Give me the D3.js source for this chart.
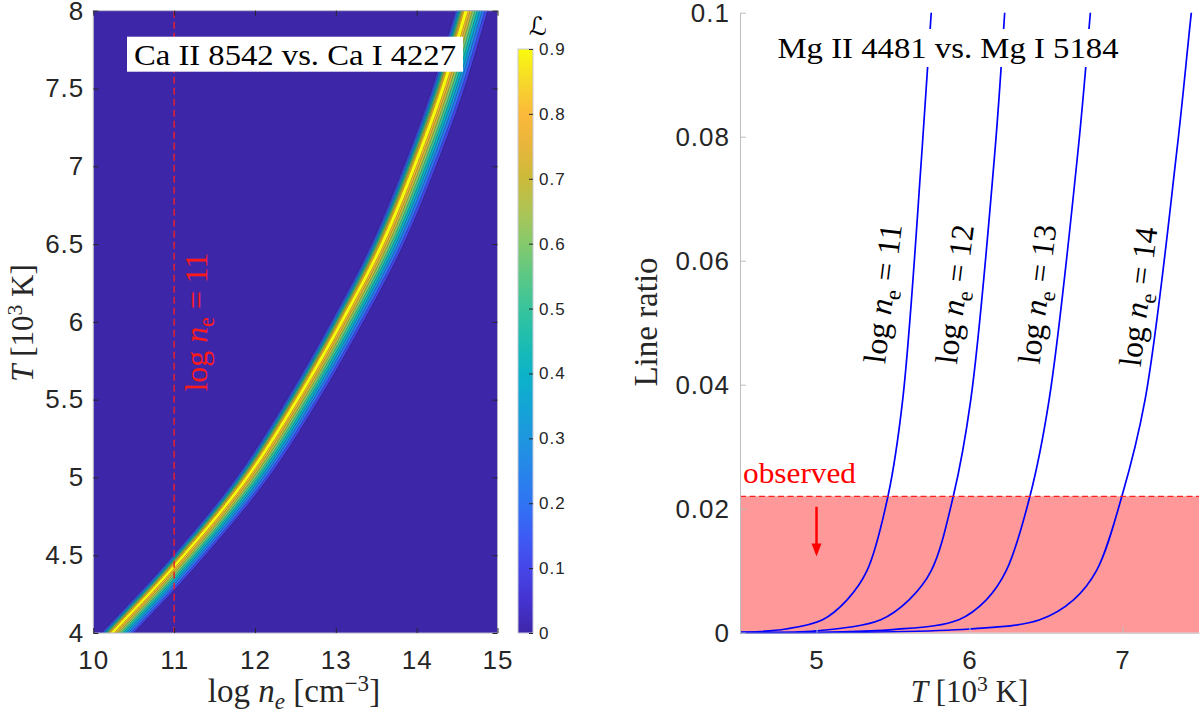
<!DOCTYPE html>
<html>
<head>
<meta charset="utf-8">
<script src="https://cdn.jsdelivr.net/npm/d3@7"></script>
<style>
  body { margin: 0; background: #fff; }
  svg { display: block; }
  .tick text { font-family: "Liberation Sans", Arial, sans-serif; fill: #262626; letter-spacing: 1px; }
  .serif { font-family: "Liberation Serif", "Times New Roman", serif; }
</style>
</head>
<body>
<div id="chart"></div>
<script>
// ---- left panel: where the likelihood peaks ----
var ridgeT  = [4.0, 4.43, 5.0, 5.5, 6.0, 6.5, 7.0, 7.5, 8.0];
var ridgeNe = [10.23, 11.0, 11.9, 12.52, 13.07, 13.57, 13.97, 14.32, 14.61];
// likelihood across the ridge, offset in log ne
var profileDx = [-0.16, -0.13, -0.105, -0.08, -0.056, -0.038, -0.024, 0, 0.028, 0.05, 0.08, 0.11, 0.14, 0.17, 0.2, 0.235, 0.27, 0.31];
var profileL  = [0, 0.1, 0.25, 0.45, 0.65, 0.8, 0.9, 0.95, 0.9, 0.8, 0.7, 0.6, 0.5, 0.4, 0.3, 0.2, 0.1, 0];
var levels = [0.1, 0.2, 0.3, 0.4, 0.5, 0.6, 0.7, 0.8, 0.9];
var cbarTicks = [0, 0.1, 0.2, 0.3, 0.4, 0.5, 0.6, 0.7, 0.8, 0.9];
var leftXTicks = [10, 11, 12, 13, 14, 15];
var leftYTicks = [4, 4.5, 5, 5.5, 6, 6.5, 7, 7.5, 8];
var markNe = 11;

// parula-like colour stops (value on the colour bar)
var parulaAt  = [0, 0.05, 0.1, 0.15, 0.2, 0.25, 0.3, 0.35, 0.4, 0.45, 0.5, 0.55, 0.6, 0.65, 0.7, 0.75, 0.8, 0.85, 0.9];
var parulaHex = ["#3e26a8", "#4433d0", "#4646e8", "#3d5cf5", "#2f74f3", "#2785ea", "#1e96df", "#13a5d6", "#0cb3c8",
                 "#1dbdb0", "#38c49c", "#5bc885", "#85c96c", "#aec455", "#cbbb3a", "#e8b53c", "#fbb93a", "#f6d82a", "#f9fb0e"];

// ---- right panel: line ratio curves for each log ne ----
var curveNe = [11, 12, 13, 14];
var curveT = [
  [4.5, 4.8, 5.04, 5.2, 5.33, 5.467, 5.563, 5.69, 5.75, 5.8],
  [4.5, 5.0, 5.42, 5.605, 5.75, 5.894, 6.008, 6.167, 6.23, 6.28],
  [4.5, 5.5, 5.93, 6.11, 6.24, 6.395, 6.52, 6.71, 6.79, 6.85],
  [4.5, 6.0, 6.46, 6.68, 6.83, 6.996, 7.147, 7.356, 7.45, 7.52]
];
var curveRatio = [
  [0.00005, 0.0006, 0.0021, 0.0053, 0.010, 0.022, 0.0375, 0.0779, 0.100, 0.118],
  [0.00002, 0.0003, 0.0021, 0.0053, 0.010, 0.022, 0.0375, 0.0779, 0.100, 0.120],
  [0.00001, 0.0005, 0.0021, 0.0053, 0.010, 0.022, 0.0375, 0.0779, 0.100, 0.118],
  [0.00001, 0.0006, 0.0021, 0.0053, 0.010, 0.022, 0.0375, 0.0779, 0.100, 0.115]
];
var labelT = [5.43, 5.90, 6.44, 7.10];
var labelRatio = [0.0547, 0.0546, 0.0546, 0.0542];
var observedRatio = 0.022;
var arrowT = 5.0, arrowFrom = 0.0203, arrowTo = 0.0123;
var rightXTicks = [5, 6, 7];
var rightYTicks = [0, 0.02, 0.04, 0.06, 0.08, 0.1];

var svg = d3.select("#chart").append("svg")
    .attr("width", 1200)
    .attr("height", 714);

// little helper for latex-ish labels
function richText(sel, parts, fs) {
  var shift = 0;
  parts.forEach(function(p) {
    var ts = sel.append("tspan").text(p.t);
    var want = 0;
    if (p.sub) want = 0.22 * fs;
    if (p.sup) want = -0.34 * fs;
    if (want - shift !== 0) ts.attr("dy", want - shift);
    shift = want;
    if (p.sub || p.sup) ts.attr("font-size", fs * 0.7);
    if (p.i) ts.attr("font-style", "italic");
  });
  return sel;
}

// smooth monotone interpolation through the read ridge points
function monotone(xs, ys) {
  var n = xs.length, d = [], m = [];
  for (var k = 0; k < n - 1; k++) d.push((ys[k + 1] - ys[k]) / (xs[k + 1] - xs[k]));
  m[0] = d[0]; m[n - 1] = d[n - 2];
  for (k = 1; k < n - 1; k++) m[k] = d[k - 1] * d[k] <= 0 ? 0 : 2 / (1 / d[k - 1] + 1 / d[k]);
  return function(x) {
    var k = Math.max(0, Math.min(n - 2, d3.bisectRight(xs, x) - 1));
    var h = xs[k + 1] - xs[k], t = (x - xs[k]) / h, t2 = t * t, t3 = t2 * t;
    return (2 * t3 - 3 * t2 + 1) * ys[k] + (t3 - 2 * t2 + t) * h * m[k] +
           (-2 * t3 + 3 * t2) * ys[k + 1] + (t3 - t2) * h * m[k + 1];
  };
}

var parula = d3.scaleLinear().domain(parulaAt).range(parulaHex).clamp(true);

/* ================= left panel ================= */
var xL = d3.scaleLinear().domain([10, 15]).range([93.3, 497.5]);
var yL = d3.scaleLinear().domain([4, 8]).range([633, 10.7]);

svg.append("clipPath").attr("id", "clipL")
  .append("rect")
    .attr("x", xL(10)).attr("y", yL(8))
    .attr("width", xL(15) - xL(10)).attr("height", yL(4) - yL(8));

var left = svg.append("g");
var heat = left.append("g").attr("clip-path", "url(#clipL)");

heat.append("rect")
    .attr("x", xL(10)).attr("y", yL(8))
    .attr("width", xL(15) - xL(10)).attr("height", yL(4) - yL(8))
    .attr("fill", parula(0));

var nx = 501, ny = 401, dNe = 0.01, dT = 0.01;
var ridge = monotone(ridgeT, ridgeNe);
var prof = d3.scaleLinear().domain(profileDx).range(profileL).clamp(true);
var grid = new Float64Array(nx * ny);
for (var j = 0; j < ny; j++) {
  var T = 4 + j * dT, c = ridge(T);
  for (var i = 0; i < nx; i++) {
    grid[j * nx + i] = prof(10 + i * dNe - c);
  }
}
var contours = d3.contours().size([nx, ny]).thresholds(levels)(grid);
var toPx = d3.geoTransform({
  point: function(px, py) {
    this.stream.point(xL(10 + (px - 0.5) * dNe), yL(4 + (py - 0.5) * dT));
  }
});
heat.selectAll("path.band")
  .data(contours)
  .join("path")
    .attr("class", "band")
    .attr("d", d3.geoPath(toPx))
    .attr("fill", function(d) { return parula(d.value); })
    .attr("stroke", "#000")
    .attr("stroke-opacity", 0.4)
    .attr("stroke-width", 0.6);

// dashed log ne = 11 marker
heat.append("line")
    .attr("x1", xL(markNe)).attr("x2", xL(markNe))
    .attr("y1", yL(8)).attr("y2", yL(4))
    .attr("stroke", "#e5202e")
    .attr("stroke-width", 1.5)
    .attr("stroke-dasharray", "7,4");

richText(left.append("text")
    .attr("class", "serif")
    .attr("transform", "translate(" + (xL(markNe) + 22) + ",322) rotate(-90)")
    .attr("text-anchor", "middle")
    .attr("dy", "0.35em")
    .attr("font-size", 32)
    .attr("fill", "#ff1a1a"),
  [{t: "log "}, {t: "n", i: 1}, {t: "e", sub: 1}, {t: " = " + markNe}], 32)
  .attr("textLength", 139).attr("lengthAdjust", "spacingAndGlyphs");

// title box
left.append("rect")
    .attr("x", 127).attr("y", 36.7)
    .attr("width", 336).attr("height", 35)
    .attr("fill", "#fff");
left.append("text")
    .attr("class", "serif")
    .attr("x", 295).attr("y", 65)
    .attr("text-anchor", "middle")
    .attr("font-size", 30)
    .attr("fill", "#000")
    .attr("textLength", 322).attr("lengthAdjust", "spacingAndGlyphs")
    .text("Ca II 8542 vs.  Ca I 4227");

// frame + ticks
left.append("rect")
    .attr("x", xL(10)).attr("y", yL(8))
    .attr("width", xL(15) - xL(10)).attr("height", yL(4) - yL(8))
    .attr("fill", "none")
    .attr("stroke", "#b4b4c8")
    .attr("stroke-width", 1);

function styleAxis(g, fs) {
  g.select(".domain").remove();
  g.selectAll(".tick line").attr("stroke", "#262626");
  g.selectAll(".tick text").attr("font-size", fs);
}
var fmt = d3.format("~g");

left.append("g")
    .attr("transform", "translate(0," + yL(4) + ")")
    .call(d3.axisBottom(xL).tickValues(leftXTicks).tickSize(-5).tickPadding(18).tickFormat(fmt))
    .call(styleAxis, 26);
left.append("g")
    .attr("transform", "translate(0," + yL(8) + ")")
    .call(d3.axisTop(xL).tickValues(leftXTicks).tickSize(-5).tickFormat(""))
    .call(styleAxis, 26);
left.append("g")
    .attr("transform", "translate(" + xL(10) + ",0)")
    .call(d3.axisLeft(yL).tickValues(leftYTicks).tickSize(-5).tickPadding(9).tickFormat(fmt))
    .call(styleAxis, 26);
left.append("g")
    .attr("transform", "translate(" + xL(15) + ",0)")
    .call(d3.axisRight(yL).tickValues(leftYTicks).tickSize(-5).tickFormat(""))
    .call(styleAxis, 26);

richText(left.append("text")
    .attr("class", "serif")
    .attr("x", 294).attr("y", 702)
    .attr("text-anchor", "middle")
    .attr("font-size", 33)
    .attr("fill", "#262626"),
  [{t: "log "}, {t: "n", i: 1}, {t: "e", sub: 1, i: 1}, {t: "  [cm"}, {t: "\u22123", sup: 1}, {t: "]"}], 33);

richText(left.append("text")
    .attr("class", "serif")
    .attr("transform", "translate(33,323) rotate(-90)")
    .attr("text-anchor", "middle")
    .attr("font-size", 31)
    .attr("fill", "#262626"),
  [{t: "T", i: 1}, {t: "  [10"}, {t: "3", sup: 1}, {t: " K]"}], 31);

// colour bar
var yC = d3.scaleLinear().domain([0, 0.9]).range([633, 49]);
var grad = svg.append("defs").append("linearGradient")
    .attr("id", "parulaGrad")
    .attr("x1", 0).attr("y1", 1).attr("x2", 0).attr("y2", 0);
grad.selectAll("stop")
  .data(parulaAt)
  .join("stop")
    .attr("offset", function(d) { return d / 0.9; })
    .attr("stop-color", function(d) { return parula(d); });

var cbar = svg.append("g");
cbar.append("rect")
    .attr("x", 518).attr("y", yC(0.9))
    .attr("width", 15).attr("height", yC(0) - yC(0.9))
    .attr("fill", "url(#parulaGrad)")
    .attr("stroke", "#c8c8d8")
    .attr("stroke-width", 1);
cbar.append("g")
    .attr("transform", "translate(533,0)")
    .call(d3.axisRight(yC).tickValues(cbarTicks).tickSize(-4).tickPadding(6).tickFormat(fmt))
    .call(styleAxis, 17);
cbar.append("text")
    .attr("x", 538).attr("y", 35)
    .attr("text-anchor", "middle")
    .attr("font-family", "DejaVu Serif, DejaVu Sans, serif")
    .attr("font-size", 25)
    .attr("fill", "#000")
    .text("\u2112");

/* ================= right panel ================= */
var xR = d3.scaleLinear().domain([4.5, 7.5]).range([740, 1199]);
var yR = d3.scaleLinear().domain([0, 0.1]).range([632.7, 12.7]);

svg.append("clipPath").attr("id", "clipR")
  .append("rect")
    .attr("x", xR(4.5)).attr("y", yR(0.1))
    .attr("width", xR(7.5) - xR(4.5)).attr("height", yR(0) - yR(0.1) + 2);

var right = svg.append("g");

right.append("rect")
    .attr("x", xR(4.5)).attr("y", yR(observedRatio))
    .attr("width", xR(7.5) - xR(4.5)).attr("height", yR(0) - yR(observedRatio))
    .attr("fill", "#ff9999");

var line = d3.line()
    .x(function(d) { return xR(d[0]); })
    .y(function(d) { return yR(d[1]); })
    .curve(d3.curveCatmullRom.alpha(0.5));

right.append("g").attr("clip-path", "url(#clipR)")
  .selectAll("path.curve")
  .data(curveNe)
  .join("path")
    .attr("class", "curve")
    .attr("d", function(d, k) { return line(d3.zip(curveT[k], curveRatio[k])); })
    .attr("fill", "none")
    .attr("stroke", "#0000ff")
    .attr("stroke-width", 1.7);

// title with white background (cuts the curves)
right.append("rect")
    .attr("x", 770).attr("y", 29)
    .attr("width", 356).attr("height", 38)
    .attr("fill", "#fff");
right.append("text")
    .attr("class", "serif")
    .attr("x", 948).attr("y", 58.3)
    .attr("text-anchor", "middle")
    .attr("font-size", 30)
    .attr("fill", "#000")
    .attr("textLength", 341).attr("lengthAdjust", "spacingAndGlyphs")
    .text("Mg II 4481 vs.  Mg I 5184");

// curve labels
curveNe.forEach(function(ne, k) {
  richText(right.append("text")
      .attr("class", "serif")
      .attr("transform", "translate(" + xR(labelT[k]) + "," + yR(labelRatio[k]) + ") rotate(-83)")
      .attr("text-anchor", "middle")
      .attr("dy", "0.35em")
      .attr("font-size", 32)
      .attr("fill", "#000"),
    [{t: "log "}, {t: "n", i: 1}, {t: "e", sub: 1}, {t: " = " + ne}], 32)
    .attr("textLength", 140).attr("lengthAdjust", "spacingAndGlyphs");
});

// observed level
right.append("line")
    .attr("x1", xR(4.5)).attr("x2", xR(7.5))
    .attr("y1", yR(observedRatio)).attr("y2", yR(observedRatio))
    .attr("stroke", "#ff2020")
    .attr("stroke-width", 1.3)
    .attr("stroke-dasharray", "6,3.5");
right.append("text")
    .attr("class", "serif")
    .attr("x", 743).attr("y", 483.3)
    .attr("font-size", 30)
    .attr("fill", "#ff0000")
    .attr("textLength", 113).attr("lengthAdjust", "spacingAndGlyphs")
    .text("observed");

var ax = xR(arrowT), ay0 = yR(arrowFrom), ay1 = yR(arrowTo);
right.append("line")
    .attr("x1", ax).attr("x2", ax)
    .attr("y1", ay0).attr("y2", ay1 - 10)
    .attr("stroke", "#ff0000")
    .attr("stroke-width", 2.5);
right.append("path")
    .attr("d", "M" + (ax - 5) + "," + (ay1 - 13) + "L" + (ax + 5) + "," + (ay1 - 13) + "L" + ax + "," + ay1 + "Z")
    .attr("fill", "#ff0000");

// axes
function styleGrey(g, fs) {
  g.select(".domain").attr("stroke", "#bdbdbd");
  g.selectAll(".tick line").attr("stroke", "#bdbdbd");
  g.selectAll(".tick text").attr("font-size", fs);
}
right.append("g")
    .attr("transform", "translate(" + xR(4.5) + ",0)")
    .call(d3.axisLeft(yR).tickValues(rightYTicks).tickSize(-6).tickSizeOuter(0).tickPadding(10)
      .tickFormat(function(d) { return String(+d.toFixed(2)); }))
    .call(styleGrey, 26);
right.append("g")
    .attr("transform", "translate(0," + yR(0) + ")")
    .call(d3.axisBottom(xR).tickValues(rightXTicks).tickSize(-6).tickSizeOuter(0).tickPadding(18).tickFormat(fmt))
    .call(styleGrey, 26);

right.append("text")
    .attr("class", "serif")
    .attr("transform", "translate(657,322) rotate(-90)")
    .attr("text-anchor", "middle")
    .attr("font-size", 33)
    .attr("fill", "#262626")
    .text("Line ratio");

richText(right.append("text")
    .attr("class", "serif")
    .attr("x", xR(6)).attr("y", 702)
    .attr("text-anchor", "middle")
    .attr("font-size", 31)
    .attr("fill", "#262626"),
  [{t: "T", i: 1}, {t: "  [10"}, {t: "3", sup: 1}, {t: " K]"}], 31);
</script>
</body>
</html>
